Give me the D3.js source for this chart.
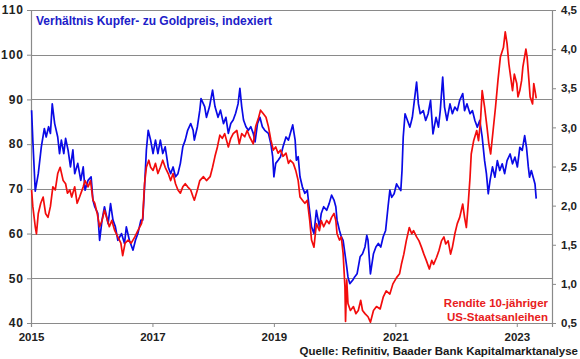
<!DOCTYPE html>
<html>
<head>
<meta charset="utf-8">
<script src="https://cdn.jsdelivr.net/npm/d3@7"></script>
<style>
  html, body { margin: 0; padding: 0; background: #ffffff; }
  svg { display: block; font-family: "Liberation Sans", Arial, sans-serif; }
</style>
</head>
<body>
<svg id="chart" width="580" height="359"></svg>
<script>
// ---- Data ----
const blueYears = [
  2015.01,2015.03,2015.07,2015.12,2015.17,2015.22,2015.25,2015.29,2015.32,2015.35,2015.39,2015.44,2015.47,2015.50,2015.54,2015.57,2015.61,2015.65,2015.69,2015.72,2015.77,2015.82,2015.86,2015.89,2015.94,2015.99,
  2016.02,2016.05,2016.10,2016.13,2016.17,2016.21,2016.27,2016.31,2016.35,2016.39,2016.43,2016.49,2016.54,2016.57,2016.62,2016.68,2016.72,2016.76,2016.81,2016.84,2016.87,2016.90,2016.93,2016.97,
  2017.01,2017.05,2017.09,2017.13,2017.17,2017.21,2017.26,2017.30,2017.34,2017.38,2017.42,2017.46,2017.50,2017.54,2017.58,2017.63,2017.67,2017.69,2017.74,2017.78,2017.80,2017.86,2017.89,2017.94,2017.99,
  2018.03,2018.08,2018.12,2018.17,2018.21,2018.25,2018.29,2018.33,2018.37,2018.41,2018.44,2018.47,2018.50,2018.54,2018.58,2018.62,2018.66,2018.69,2018.73,2018.77,2018.81,2018.85,2018.91,2018.95,2018.98,
  2019.00,2019.03,2019.07,2019.11,2019.15,2019.20,2019.24,2019.27,2019.31,2019.35,2019.37,2019.40,2019.43,2019.47,2019.51,2019.55,2019.58,2019.62,2019.66,2019.70,2019.75,2019.78,2019.82,2019.87,2019.91,2019.95,2019.99,
  2020.02,2020.04,2020.08,2020.11,2020.14,2020.17,2020.20,2020.22,2020.25,2020.30,2020.33,2020.37,2020.42,2020.46,2020.50,2020.53,2020.55,2020.59,2020.64,2020.68,2020.72,2020.76,2020.80,2020.84,2020.88,2020.91,2020.94,2020.98,
  2021.02,2021.05,2021.09,2021.11,2021.13,2021.16,2021.20,2021.24,2021.28,2021.32,2021.35,2021.38,2021.41,2021.46,2021.50,2021.54,2021.58,2021.62,2021.67,2021.71,2021.74,2021.78,2021.81,2021.85,2021.90,2021.94,2021.98,
  2022.02,2022.06,2022.11,2022.14,2022.18,2022.23,2022.27,2022.31,2022.35,2022.39,2022.43,2022.47,2022.50,2022.53,2022.56,2022.60,2022.64,2022.68,2022.72,2022.76,2022.80,2022.84,2022.89,2022.93,2022.97,
  2023.01,2023.05,2023.09,2023.13,2023.16,2023.19,2023.21,2023.24,2023.27,2023.30,2023.32
];
const blueValues = [
  87.6,80.9,69.5,73.4,79.4,83.5,81.6,83.9,82.4,89.0,84.6,81.6,77.9,80.9,77.9,81.3,78.7,74.9,78.7,73.4,75.7,71.9,74.9,69.7,71.9,72.7,
  67.5,66.0,64.5,58.5,63.0,66.0,62.2,66.7,63.0,61.5,58.5,60.0,57.8,61.5,58.5,56.3,58.5,60.0,63.0,63.0,70.4,78.7,83.1,80.9,
  77.9,80.9,77.9,80.9,77.9,79.4,74.9,73.4,74.9,72.7,73.4,75.7,79.4,80.9,83.1,84.6,83.1,80.9,83.9,87.6,90.2,88.4,86.0,88.4,92.1,
  88.4,86.0,87.6,84.6,86.0,82.4,84.6,85.4,86.9,89.0,92.5,88.4,85.4,83.9,83.1,83.9,82.4,80.5,84.6,86.0,83.9,83.1,82.4,80.1,77.2,
  72.7,75.7,76.4,77.2,79.4,81.6,80.9,82.4,84.3,80.9,76.4,77.2,72.7,70.4,69.0,69.7,66.0,61.5,60.0,65.2,61.5,64.5,66.0,65.2,66.7,68.6,67.5,
  66.0,63.0,60.7,59.3,58.5,55.5,52.5,50.3,48.8,49.6,50.3,51.0,54.8,55.5,57.0,59.6,58.5,51.0,55.5,57.0,57.8,57.0,59.3,60.7,66.0,69.7,68.1,68.9,
  71.1,70.4,69.6,74.1,81.6,86.8,85.3,83.8,86.0,90.5,93.9,89.0,86.8,87.5,85.3,86.8,89.8,82.3,86.0,83.8,87.5,95.0,88.3,85.3,89.0,86.8,88.3,
  87.5,89.8,91.3,87.5,89.0,86.8,87.5,85.3,83.8,85.3,81.6,76.3,73.4,68.9,71.9,74.9,72.6,76.3,74.1,75.6,73.4,76.3,77.8,75.6,77.1,
  74.9,79.3,78.6,81.9,79.3,74.9,72.6,74.1,72.6,71.1,67.8
];

const redYears = [
  2015.01,2015.03,2015.07,2015.09,2015.12,2015.16,2015.20,2015.24,2015.28,2015.32,2015.36,2015.40,2015.44,2015.48,2015.53,2015.57,2015.60,2015.64,2015.67,2015.72,2015.76,2015.80,2015.86,2015.89,2015.94,2015.98,
  2016.02,2016.05,2016.09,2016.13,2016.17,2016.21,2016.26,2016.29,2016.33,2016.38,2016.43,2016.48,2016.51,2016.55,2016.60,2016.65,2016.71,2016.76,2016.82,2016.84,2016.87,2016.90,2016.94,2016.97,
  2017.01,2017.05,2017.09,2017.13,2017.17,2017.21,2017.26,2017.30,2017.34,2017.38,2017.42,2017.46,2017.50,2017.54,2017.58,2017.63,2017.67,2017.69,2017.74,2017.78,2017.84,2017.89,2017.95,2017.99,
  2018.03,2018.07,2018.11,2018.15,2018.19,2018.25,2018.29,2018.33,2018.39,2018.43,2018.47,2018.52,2018.56,2018.60,2018.66,2018.70,2018.75,2018.78,2018.82,2018.87,2018.91,2018.95,2018.99,
  2019.03,2019.07,2019.11,2019.15,2019.20,2019.24,2019.27,2019.32,2019.36,2019.40,2019.43,2019.47,2019.51,2019.55,2019.59,2019.62,2019.66,2019.70,2019.75,2019.78,2019.82,2019.87,2019.91,2019.95,2019.99,
  2020.02,2020.04,2020.08,2020.11,2020.14,2020.17,2020.18,2020.20,2020.22,2020.26,2020.31,2020.35,2020.39,2020.43,2020.46,2020.50,2020.55,2020.59,2020.64,2020.69,2020.75,2020.80,2020.85,2020.91,2020.96,
  2021.02,2021.07,2021.10,2021.14,2021.18,2021.23,2021.27,2021.30,2021.35,2021.39,2021.43,2021.47,2021.51,2021.56,2021.60,2021.63,2021.68,2021.72,2021.76,2021.80,2021.83,2021.87,2021.91,2021.94,2021.98,
  2022.02,2022.06,2022.11,2022.14,2022.17,2022.20,2022.23,2022.25,2022.29,2022.34,2022.37,2022.40,2022.43,2022.47,2022.51,2022.54,2022.57,2022.61,2022.65,2022.69,2022.73,2022.78,2022.81,2022.84,2022.87,2022.90,2022.93,2022.96,
  2023.00,2023.02,2023.05,2023.08,2023.10,2023.15,2023.17,2023.20,2023.22,2023.26,2023.28,2023.30,2023.32
];
const redValues = [
  2.20,1.99,1.73,1.64,1.90,2.03,2.11,1.90,1.85,1.99,2.24,2.20,2.41,2.49,2.32,2.28,2.16,2.20,2.11,2.24,2.03,2.11,2.24,2.32,2.24,2.32,
  2.07,2.03,1.90,1.73,1.81,1.94,1.81,1.73,1.81,1.68,1.60,1.52,1.36,1.52,1.56,1.52,1.60,1.68,1.77,1.85,2.28,2.49,2.58,2.49,
  2.45,2.54,2.41,2.49,2.58,2.49,2.41,2.32,2.41,2.28,2.20,2.16,2.24,2.28,2.24,2.20,2.11,2.07,2.20,2.32,2.37,2.32,2.37,2.49,
  2.63,2.75,2.90,2.86,2.92,2.75,2.86,2.92,2.96,2.79,2.92,2.88,2.96,2.88,2.79,3.01,3.13,3.22,3.18,3.13,3.01,2.84,2.71,
  2.75,2.67,2.71,2.63,2.67,2.54,2.58,2.54,2.45,2.32,2.11,2.07,2.03,2.07,1.81,1.56,1.47,1.77,1.68,1.81,1.73,1.81,1.77,1.85,1.90,
  1.81,1.64,1.56,1.60,1.39,0.96,0.52,1.05,0.75,0.66,0.71,0.62,0.66,0.79,0.66,0.62,0.58,0.51,0.66,0.71,0.68,0.83,0.91,0.87,1.00,
  1.08,1.13,1.25,1.38,1.55,1.72,1.64,1.68,1.60,1.55,1.47,1.38,1.30,1.19,1.30,1.25,1.34,1.43,1.55,1.60,1.51,1.55,1.38,1.47,1.64,
  1.77,1.85,2.02,1.85,1.72,2.02,2.36,2.66,2.83,2.96,2.83,3.05,3.47,3.26,3.00,2.79,2.66,2.96,3.26,3.60,3.90,4.02,4.22,4.07,3.81,3.64,3.47,3.68,
  3.56,3.39,3.47,3.60,3.77,4.00,3.90,3.60,3.39,3.30,3.56,3.47,3.37
];

const leftTicks = [40, 50, 60, 70, 80, 90, 100, 110];
const rightTicks = [0.5, 1.0, 1.5, 2.0, 2.5, 3.0, 3.5, 4.0, 4.5];
const yearTicks = [2015, 2017, 2019, 2021, 2023];

const titleText = "Verhältnis Kupfer- zu Goldpreis, indexiert";
const redLabel = ["Rendite 10-jähriger", "US-Staatsanleihen"];
const sourceText = "Quelle: Refinitiv, Baader Bank Kapitalmarktanalyse";

// ---- Layout ----
const svg = d3.select("#chart");
const L = 31, R = 552, T = 10, B = 323;

const x = d3.scaleLinear().domain([2015, 2023.58]).range([L, R]);
const yL = d3.scaleLinear().domain([40, 110]).range([B, T]);
const yR = d3.scaleLinear().domain([0.5, 4.5]).range([B, T]);

const gridColor = "#8a8a8a";

// gridlines
svg.append("g").selectAll("line")
  .data(leftTicks.filter(d => d > 40))
  .join("line")
  .attr("x1", L).attr("x2", R)
  .attr("y1", d => Math.round(yL(d)) + 0.5).attr("y2", d => Math.round(yL(d)) + 0.5)
  .attr("stroke", gridColor).attr("stroke-width", 1.2);

// axes
const axFont = g => g.selectAll("text")
  .attr("font-family", "'Liberation Sans', Arial, sans-serif")
  .attr("font-weight", "bold").attr("fill", "#222");

const gL = svg.append("g").attr("transform", `translate(${L},0)`)
  .call(d3.axisLeft(yL).tickValues(leftTicks).tickSize(4).tickPadding(3).tickFormat(d3.format("d")));
gL.call(axFont);
gL.selectAll("text").attr("font-size", 12).attr("letter-spacing", "1px");
gL.select(".domain").attr("stroke", gridColor).attr("stroke-width", 1.2);
gL.selectAll(".tick line").attr("stroke", gridColor);

const gR = svg.append("g").attr("transform", `translate(${R},0)`)
  .call(d3.axisRight(yR).tickValues(rightTicks).tickSize(4).tickPadding(5)
    .tickFormat(d => d3.format(".1f")(d).replace(".", ",")));
gR.call(axFont);
gR.selectAll("text").attr("font-size", 11.5);
gR.select(".domain").attr("stroke", gridColor).attr("stroke-width", 1.2);
gR.selectAll(".tick line").attr("stroke", gridColor);

const gB = svg.append("g").attr("transform", `translate(0,${B})`)
  .call(d3.axisBottom(x).tickValues(yearTicks).tickSize(4).tickPadding(6).tickFormat(d3.format("d")));
gB.call(axFont);
gB.selectAll("text").attr("font-size", 11.5);
gB.select(".domain").attr("stroke", gridColor).attr("stroke-width", 1.2);
gB.selectAll(".tick line").attr("stroke", gridColor);

// top border line
svg.append("line").attr("x1", L).attr("x2", R).attr("y1", T + 0.5).attr("y2", T + 0.5)
  .attr("stroke", gridColor).attr("stroke-width", 1.2);

// series
const blueData = blueYears.map((d, i) => [d, blueValues[i]]);
const redData = redYears.map((d, i) => [d, redValues[i]]);

svg.append("path").datum(blueData)
  .attr("fill", "none").attr("stroke", "#0a0ae6").attr("stroke-width", 1.7).attr("stroke-linejoin", "round")
  .attr("d", d3.line().x(d => x(d[0])).y(d => yL(d[1])));

svg.append("path").datum(redData)
  .attr("fill", "none").attr("stroke", "#f20c0c").attr("stroke-width", 1.7).attr("stroke-linejoin", "round")
  .attr("d", d3.line().x(d => x(d[0])).y(d => yR(d[1])));

// texts
svg.append("text").attr("x", 36).attr("y", 25)
  .attr("font-size", 12).attr("font-weight", "bold").attr("fill", "#2020c8")
  .text(titleText);

svg.append("g").selectAll("text").data(redLabel).join("text")
  .attr("x", 548).attr("y", (d, i) => 307 + i * 13.5)
  .attr("text-anchor", "end").attr("font-size", 11.5).attr("font-weight", "bold").attr("fill", "#e82020")
  .text(d => d);

svg.append("text").attr("x", 578).attr("y", 355)
  .attr("text-anchor", "end").attr("font-size", 11.5).attr("font-weight", "bold").attr("fill", "#1a1a1a")
  .text(sourceText);
</script>
</body>
</html>
